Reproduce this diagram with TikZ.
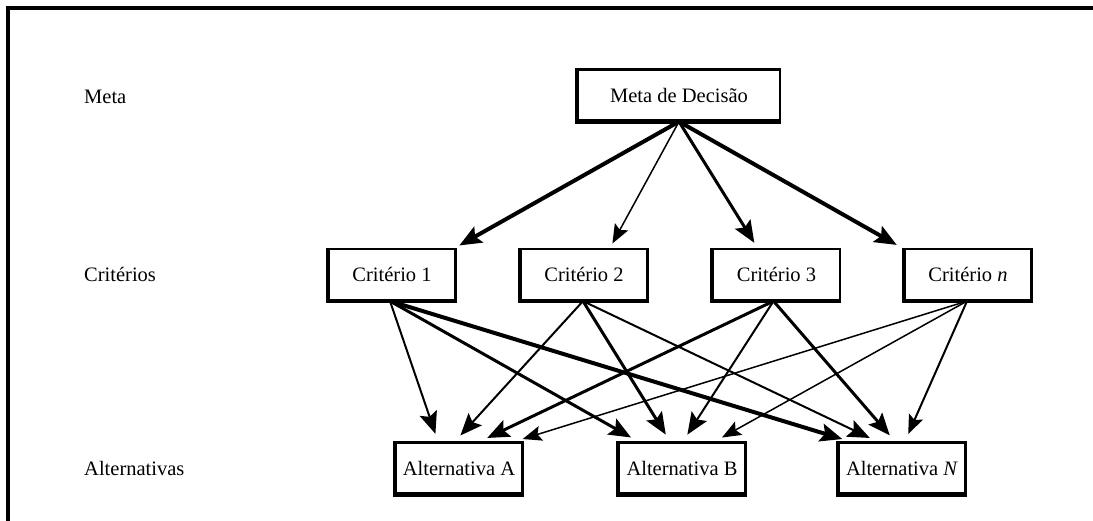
\documentclass[tikz,border=0pt]{standalone}
\usepackage{fontspec}
\setmainfont{Liberation Serif}
\usetikzlibrary{arrows.meta}
\begin{document}
\begin{tikzpicture}[x=1pt,y=-1pt,
  every node/.style={font=\fontsize{20.5}{24}\selectfont},
  boxnode/.style={draw, line width=2.2pt, minimum height=51pt, inner sep=2pt,
    append after command={\pgfextra{\draw[line width=3.8pt]
      (\tikzlastnode.north west) -- (\tikzlastnode.south west) -- (\tikzlastnode.south east);}}},
  crit/.style={boxnode, minimum width=127pt},
  alt/.style={boxnode, minimum width=127pt},
  lab/.style={anchor=west, inner sep=0pt},
  ar/.style={-{Stealth[length=22pt,width=18pt,inset=4pt]}, shorten >=8pt},
  arsm/.style={-{Stealth[length=19pt,width=15pt,inset=3.5pt]}, shorten >=8pt},
  w1/.style={line width=1.5pt},
  w2/.style={line width=2pt},
  w3/.style={line width=3pt},
  w4/.style={line width=4pt}]
\useasboundingbox (0,0) rectangle (1093,520);
\fill[white] (0,0) rectangle (1093,520);
\draw[line width=4pt] (8,522) -- (8,8) -- (1095,8);

% row labels
\node[lab] (lmeta) at (84,97) {Meta};
\node[lab] (lcrit) at (84,274) {Critérios};
\node[lab] (lalt) at (84,468) {Alternativas};

% boxes
\node[boxnode, minimum width=202pt] (meta) at (679,95) {Meta de Decisão};
\node[crit] (c1) at (392,274.5) {Critério 1};
\node[crit] (c2) at (584,274.5) {Critério 2};
\node[crit] (c3) at (776.5,274.5) {Critério 3};
\node[crit] (cn) at (968,274.5) {Critério \textit{n}};
\node[alt] (aa) at (459,468) {Alternativa A};
\node[alt] (ab) at (682,468) {Alternativa B};
\node[alt] (an) at (902,468) {Alternativa \textit{N}};

% meta -> criteria
\draw[ar,w4,shorten >=5pt] (meta.south) -- ([xshift=63pt]c1.north);
\draw[arsm,w1,shorten >=5pt] (meta.south) -- ([xshift=26pt]c2.north);
\draw[ar,w3,shorten >=6pt] (meta.south) -- ([xshift=-19pt]c3.north);
\draw[ar,w4,shorten >=6pt] (meta.south) -- ([xshift=-66pt]cn.north);

% criteria -> alternatives
\draw[ar,w2] ([xshift=-2pt]c1.south) -- ([xshift=-21pt]aa.north);
\draw[ar,w3] ([xshift=-2pt]c1.south) -- ([xshift=-44pt]ab.north);
\draw[ar,w4] ([xshift=-2pt]c1.south) -- ([xshift=-52pt]an.north);

\draw[ar,w2] ([xshift=-1pt]c2.south) -- ([xshift=-4pt]aa.north);
\draw[ar,w3] ([xshift=-1pt]c2.south) -- ([xshift=-12pt]ab.north);
\draw[ar,w2] ([xshift=-1pt]c2.south) -- ([xshift=-25pt]an.north);

\draw[ar,w3] ([xshift=-3pt]c3.south) -- ([xshift=21pt]aa.north);
\draw[ar,w2] ([xshift=-3pt]c3.south) -- ([xshift=1pt]ab.north);
\draw[ar,w3] ([xshift=-3pt]c3.south) -- ([xshift=-7pt]an.north);

\draw[arsm,w1] ([xshift=-1pt]cn.south) -- ([xshift=56pt]aa.north);
\draw[arsm,w1] ([xshift=-1pt]cn.south) -- ([xshift=33pt]ab.north);
\draw[arsm,w2] ([xshift=-1pt]cn.south) -- ([xshift=3pt]an.north);
\end{tikzpicture}
\end{document}
